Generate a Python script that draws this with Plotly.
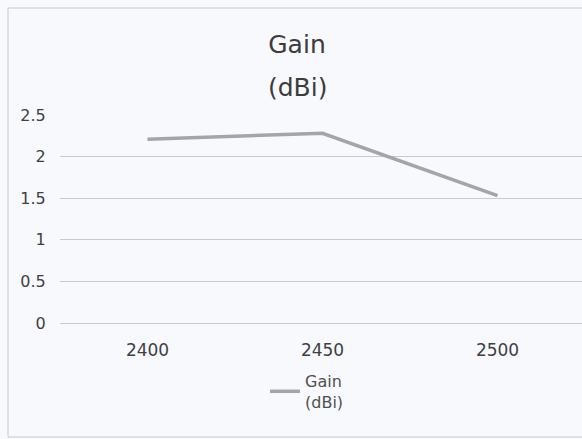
import plotly.graph_objects as go

categories = ["2400", "2450", "2500"]
gain_dbi = [2.21, 2.28, 1.53]
y_ticks = [0, 0.5, 1, 1.5, 2, 2.5]
y_tick_labels = ["0", "0.5", "1", "1.5", "2", "2.5"]
title_line1 = "Gain"
title_line2 = "(dBi)"

W, H = 582, 439
ML, MR, MT, MB = 60, 0, 115, 116
pw = W - ML - MR
ph = H - MT - MB
band = 175.0

fig = go.Figure()
fig.add_trace(go.Scatter(
    x=categories, y=gain_dbi, mode="lines", name="Gain<br>(dBi)",
    line=dict(color="#a4a5ab", width=3.5),
))

bg = "#f7f9fd"
fig.update_layout(
    width=W, height=H,
    margin=dict(l=ML, r=MR, t=MT, b=MB, autoexpand=False),
    paper_bgcolor=bg, plot_bgcolor=bg,
    font=dict(family="DejaVu Sans, sans-serif", color="#505050"),
    title=dict(text=title_line1, x=297 / W, xanchor="center", xref="container",
               y=1 - 35 / H, yanchor="top", font=dict(size=25, color="#3c3c3c")),
    showlegend=True,
    legend=dict(x=(265 - ML) / pw, xanchor="left", y=-(364 - 323) / ph, yanchor="top",
                bgcolor="rgba(0,0,0,0)", font=dict(size=16, color="#505050")),
    xaxis=dict(type="category", range=[-0.5, -0.5 + pw / band], showgrid=False,
               zeroline=False, showline=False, ticks="outside", ticklen=12,
               tickcolor=bg, tickfont=dict(size=17, color="#404040")),
    yaxis=dict(range=[0, 2.5], tickvals=y_ticks, ticktext=y_tick_labels,
               showgrid=True, gridcolor="#c9cacd", gridwidth=1,
               zeroline=True, zerolinecolor="#c9cacd", zerolinewidth=1,
               showline=False, ticks="outside", ticklen=10, tickcolor=bg,
               tickfont=dict(size=16, color="#404040")),
)

# second title line
fig.add_annotation(text=title_line2, xref="paper", yref="paper",
                   x=(297 - ML) / pw, xanchor="center",
                   y=(323 - 71) / ph, yanchor="top", showarrow=False,
                   font=dict(size=25, color="#3c3c3c"))

# chart frame (Excel chart border)
fig.add_shape(type="rect", xref="paper", yref="paper",
              x0=(8 - ML) / pw, x1=(W + 5 - ML) / pw,
              y0=(323 - 437) / ph, y1=(323 - 8) / ph,
              line=dict(color="#c8c8c8", width=1), layer="below")

fig.write_html("out.html", config={"displayModeBar": False},
               post_script="document.body.style.margin='0';")
